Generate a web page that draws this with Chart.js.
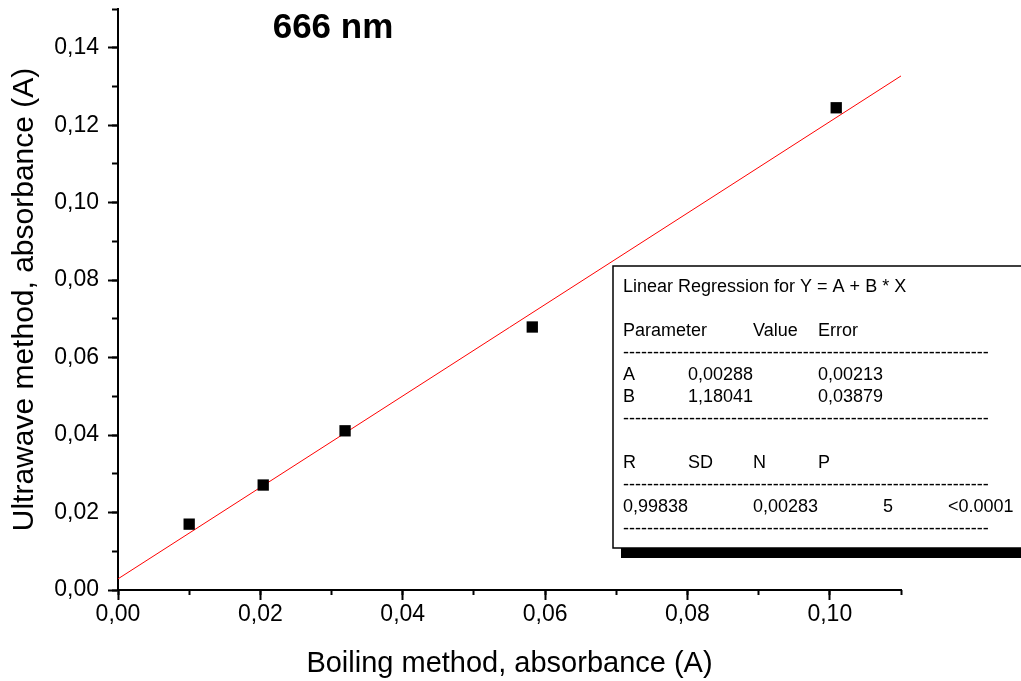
<!DOCTYPE html>
<html>
<head>
<meta charset="utf-8">
<script src="https://cdn.jsdelivr.net/npm/chart.js@4/dist/chart.umd.min.js"></script>
<style>
html,body{margin:0;padding:0;background:#fff;overflow:hidden}
#wrap{width:1021px;height:681px;position:relative}
</style>
</head>
<body>
<div id="wrap"><canvas id="c" width="1021" height="681"></canvas></div>
<script>
// ---- data ----
const boilingX   = [0.0100, 0.0204, 0.0319, 0.0582, 0.1009];
const ultrawaveY = [0.0170, 0.0271, 0.0411, 0.0679, 0.1245];
const fitX = [0, 0.11];
const fitY = [0.00288, 0.13272];
const chartTitle = '666 nm';
const xTitle = 'Boiling method, absorbance (A)';
const yTitle = 'Ultrawave method, absorbance (A)';
const DASHES = '-'.repeat(61);
const regLines = [
  ['Linear Regression for Y = A + B * X'],
  [],
  ['Parameter', '', 'Value', 'Error'],
  [DASHES],
  ['A', '0,00288', '', '0,00213'],
  ['B', '1,18041', '', '0,03879'],
  [DASHES],
  [],
  ['R', 'SD', 'N', 'P'],
  [DASHES],
  ['0,99838', '', '0,00283', '', '5', '<0.0001'],
  [DASHES]
];

const FONT = "'Liberation Sans', Arial, Helvetica, sans-serif";
const fmt = v => Number(v).toFixed(2).replace('.', ',');

const overlay = {
  id: 'overlay',
  afterDatasetsDraw(chart) {
    const ctx = chart.ctx;
    ctx.save();
    // regression box
    const bx = 613, by = 266, bw = 430, bh = 282;
    ctx.fillStyle = '#000';
    ctx.fillRect(bx + 8, by + bh, bw, 10);
    ctx.fillStyle = '#fff';
    ctx.fillRect(bx, by, bw, bh);
    ctx.strokeStyle = '#000';
    ctx.lineWidth = 1.5;
    ctx.strokeRect(bx, by, bw, bh);
    ctx.fillStyle = '#000';
    ctx.font = '18px ' + FONT;
    ctx.textBaseline = 'alphabetic';
    ctx.textAlign = 'left';
    const x0 = 623, colW = 65, y0 = 291.5, lh = 22;
    regLines.forEach((row, i) => {
      row.forEach((t, j) => {
        if (t) ctx.fillText(t, x0 + j * colW, y0 + i * lh);
      });
    });
    ctx.restore();
  },
  afterDraw(chart) {
    const ctx = chart.ctx;
    ctx.save();
    ctx.fillStyle = '#000';
    ctx.font = 'bold 35px ' + FONT;
    ctx.textAlign = 'center';
    ctx.textBaseline = 'middle';
    ctx.fillText(chartTitle, 333, 28);
    ctx.restore();
  }
};

const tickFont = { family: FONT, size: 23 };

new Chart(document.getElementById('c'), {
  type: 'scatter',
  data: {
    datasets: [
      {
        label: 'data',
        data: boilingX.map((x, i) => ({ x, y: ultrawaveY[i] })),
        pointStyle: 'rect',
        pointRadius: 8,
        pointBackgroundColor: '#000',
        pointBorderWidth: 0,
        showLine: false,
        xAxisID: 'x', yAxisID: 'y',
        order: 0
      },
      {
        label: 'fit',
        data: fitX.map((x, i) => ({ x, y: fitY[i] })),
        showLine: true,
        borderColor: '#ff0000',
        borderWidth: 1,
        pointRadius: 0,
        xAxisID: 'x', yAxisID: 'y',
        order: 1
      }
    ]
  },
  options: {
    responsive: false,
    animation: false,
    devicePixelRatio: 1,
    layout: { padding: { top: 9, right: 120, bottom: 0, left: 0 } },
    plugins: { legend: { display: false }, tooltip: { enabled: false }, title: { display: false } },
    scales: {
      x: {
        type: 'linear', position: 'bottom', min: 0, max: 0.11, weight: 1,
        ticks: { stepSize: 0.02, includeBounds: false, callback: v => fmt(v), font: tickFont, color: '#000', padding: 1, maxRotation: 0, autoSkip: false },
        grid: { drawOnChartArea: false, drawTicks: true, tickLength: 10, tickColor: '#000', tickWidth: 2 },
        border: { display: true, color: '#000', width: 2 },
        title: { display: true, text: xTitle, font: { family: FONT, size: 29 }, color: '#000', padding: { top: 0, bottom: 0 } },
        afterFit(s) { s.height = 91; s.paddingLeft = 0; s.paddingRight = 0; }
      },
      xMinor: {
        type: 'linear', position: 'bottom', min: 0, max: 0.11, weight: 0,
        ticks: { stepSize: 0.01, display: false },
        grid: { drawOnChartArea: false, drawTicks: true, tickLength: 5, tickColor: '#000', tickWidth: 2 },
        border: { display: false },
        afterFit(s) { s.height = 0; s.paddingLeft = 0; s.paddingRight = 0; }
      },
      y: {
        type: 'linear', position: 'left', min: 0, max: 0.15, weight: 1,
        ticks: { stepSize: 0.02, includeBounds: false, callback: v => fmt(v), font: tickFont, color: '#000', padding: 9 },
        grid: { drawOnChartArea: false, drawTicks: true, tickLength: 10, tickColor: '#000', tickWidth: 2 },
        border: { display: true, color: '#000', width: 2 },
        title: { display: true, text: yTitle, font: { family: FONT, size: 30 }, color: '#000', padding: { top: 7, bottom: 0 } },
        afterFit(s) { s.width = 118; s.paddingTop = 0; s.paddingBottom = 0; }
      },
      yMinor: {
        type: 'linear', position: 'left', min: 0, max: 0.15, weight: 0,
        ticks: { stepSize: 0.01, display: false },
        grid: { drawOnChartArea: false, drawTicks: true, tickLength: 6, tickColor: '#000', tickWidth: 2 },
        border: { display: false },
        afterFit(s) { s.width = 0; s.paddingTop = 0; s.paddingBottom = 0; }
      }
    }
  },
  plugins: [overlay]
});
</script>
</body>
</html>
